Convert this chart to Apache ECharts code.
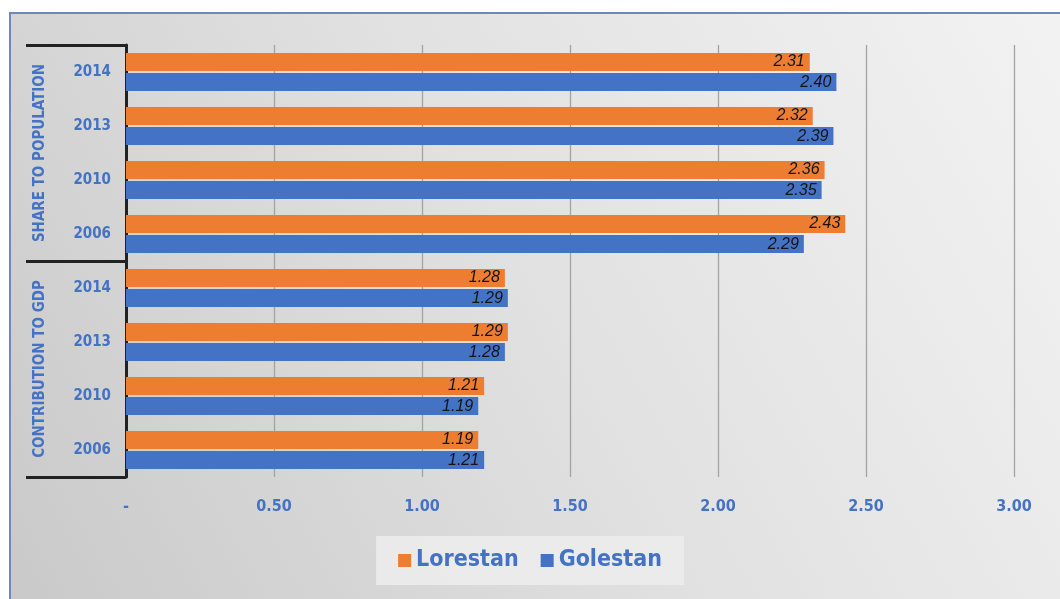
<!DOCTYPE html>
<html><head><meta charset="utf-8">
<script src="https://cdn.jsdelivr.net/npm/echarts@6/dist/echarts.min.js"></script>
<style>html,body{margin:0;padding:0;background:#fff}#c{width:1060px;height:599px}</style>
</head><body><div id="c"></div>
<script>
// categories, bottom to top
const groups = ['CONTRIBUTION TO GDP', 'SHARE TO POPULATION'];
const years = ['2006', '2010', '2013', '2014'];
const categories = ['GDP|2006','GDP|2010','GDP|2013','GDP|2014','POP|2006','POP|2010','POP|2013','POP|2014'];
const lorestan = [1.19, 1.21, 1.29, 1.28, 2.43, 2.36, 2.32, 2.31];
const golestan = [1.21, 1.19, 1.28, 1.29, 2.29, 2.35, 2.39, 2.40];
const xTicks = { min: 0, max: 3, interval: 0.5 };

const chart = echarts.init(document.getElementById('c'));
const narrow = "'Liberation Sans Narrow','DejaVu Sans Condensed','Roboto Condensed',sans-serif";
const labelStyle = {
  show: true, position: 'insideRight', distance: 5,
  formatter: p => p.value.toFixed(2),
  fontStyle: 'italic', fontFamily: 'Liberation Sans, Arial, sans-serif',
  fontSize: 16, color: '#141414'
};
chart.setOption({
  backgroundColor: '#ffffff',
  animation: false,
  graphic: [{
    type: 'rect', z: -10, silent: true,
    shape: { x: 10, y: 13, width: 1060, height: 600 },
    style: {
      fill: new echarts.graphic.LinearGradient(0, 1, 1, 0, [
        { offset: 0, color: '#c9c9c9' },
        { offset: 0.5, color: '#e1e1e1' },
        { offset: 1, color: '#f3f3f3' }
      ]),
      stroke: '#6e88bd', lineWidth: 2
    }
  }],
  grid: { left: 126, right: 46, top: 45, bottom: 122 },
  legend: {
    data: ['Lorestan', 'Golestan'],
    bottom: 14, left: 'center',
    backgroundColor: 'rgba(236,236,236,0.9)',
    padding: [13, 22],
    itemWidth: 13, itemHeight: 13, itemGap: 22,
    icon: 'rect',
    textStyle: { color: '#4472c4', fontWeight: 'bold', fontSize: 23, fontFamily: narrow }
  },
  xAxis: {
    type: 'value', min: xTicks.min, max: xTicks.max, interval: xTicks.interval,
    axisLine: { show: false }, axisTick: { show: false },
    splitLine: { show: true, lineStyle: { color: '#a3a3a3', width: 1.3 } },
    axisLabel: {
      margin: 22, color: '#4472c4', fontWeight: 'bold', fontSize: 16, fontFamily: narrow,
      formatter: v => v === 0 ? '-' : v.toFixed(2)
    }
  },
  yAxis: [{
    type: 'category', data: categories,
    axisLine: { show: true, lineStyle: { color: '#222', width: 3 } },
    axisTick: { show: false },
    axisLabel: {
      margin: 15, color: '#4472c4', fontWeight: 'bold', fontSize: 15, fontFamily: narrow,
      interval: 0,
      formatter: v => v.split('|')[1]
    }
  }, {
    type: 'category', data: groups, position: 'left',
    axisLine: { show: false },
    axisTick: { show: true, interval: 0, length: 100, lineStyle: { color: '#222', width: 3 } },
    axisLabel: {
      rotate: 90, interval: 0, margin: 78, color: '#4472c4', fontWeight: 'bold', fontSize: 15, fontFamily: narrow
    }
  }],
  series: [{
    name: 'Lorestan', type: 'bar', yAxisIndex: 0, data: lorestan,
    barWidth: 18, barGap: '12%', itemStyle: { color: '#ed7d31' }, label: labelStyle
  }, {
    name: 'Golestan', type: 'bar', yAxisIndex: 0, data: golestan,
    barWidth: 18, barGap: '12%', itemStyle: { color: '#4472c4' }, label: labelStyle
  }]
});
</script></body></html>
